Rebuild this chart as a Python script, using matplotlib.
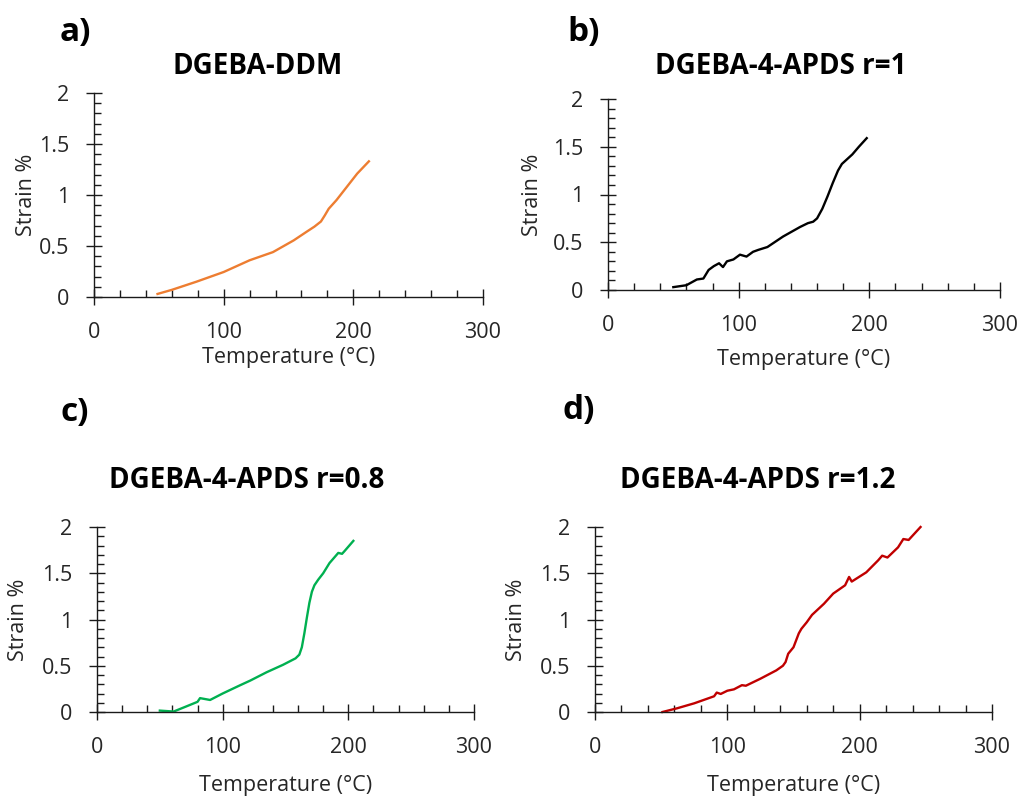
import matplotlib
matplotlib.use("Agg")
import matplotlib.pyplot as plt
from matplotlib.ticker import MultipleLocator

# Strain vs temperature
temp_a = [49, 60, 79, 100, 120, 138, 154, 164, 170, 175, 178, 181, 187, 195, 203, 212]
strain_a = [0.03, 0.07, 0.15, 0.245, 0.36, 0.44, 0.555, 0.64, 0.69, 0.74, 0.80, 0.865, 0.95,
            1.08, 1.21, 1.33]

temp_b = [50, 60, 68, 73, 77, 81, 85, 88, 91, 96, 101, 106, 111, 115, 122, 134, 147, 153, 157,
          160, 164, 168, 172, 176, 179, 183, 187, 192, 198]
strain_b = [0.03, 0.05, 0.11, 0.12, 0.21, 0.25, 0.28, 0.24, 0.30, 0.32, 0.37, 0.35, 0.40, 0.42,
            0.45, 0.56, 0.66, 0.70, 0.715, 0.75, 0.85, 0.98, 1.12, 1.25, 1.32, 1.37, 1.42, 1.50,
            1.59]

temp_c = [50, 61, 71, 80, 82, 86, 90, 100, 114, 122, 135, 148, 158, 161, 163, 165, 167, 169,
          171, 173, 176, 180, 185, 192, 195, 197, 204]
strain_c = [0.015, 0.005, 0.06, 0.11, 0.15, 0.14, 0.13, 0.20, 0.29, 0.34, 0.43, 0.51, 0.58,
            0.62, 0.70, 0.85, 1.02, 1.18, 1.30, 1.37, 1.43, 1.50, 1.61, 1.72, 1.71, 1.74, 1.85]

temp_d = [51, 62, 75, 90, 92, 95, 100, 105, 111, 114, 125, 137, 142, 144, 146, 150, 154, 156,
          160, 164, 173, 180, 189, 192, 194, 205, 214, 217, 221, 229, 233, 237, 246]
strain_d = [0.0, 0.04, 0.094, 0.17, 0.21, 0.195, 0.23, 0.245, 0.29, 0.284, 0.36, 0.45, 0.50,
            0.54, 0.63, 0.70, 0.85, 0.90, 0.97, 1.05, 1.17, 1.28, 1.37, 1.46, 1.41, 1.51, 1.64,
            1.69, 1.67, 1.78, 1.87, 1.86, 2.0]

titles = ["DGEBA-DDM", "DGEBA-4-APDS r=1", "DGEBA-4-APDS r=0.8", "DGEBA-4-APDS r=1.2"]
letters = ["a)", "b)", "c)", "d)"]
colors = ["#ED7D31", "#000000", "#00B050", "#C00000"]

W, H = 1029, 799
plt.rcParams['font.family'] = ['Open Sans', 'DejaVu Sans']

fig = plt.figure(figsize=(W / 100, H / 100), dpi=100)


def fx(x):
    return x / W


def fy(y):
    return 1 - y / H


# panel boxes in pixels: left, right, top, bottom
boxes = [(94, 483, 93, 297), (608, 1000, 99, 290), (97, 474, 527, 712), (595, 992, 527, 712)]
title_pos = [(258, 67), (781, 67), (247, 481), (758, 480)]
letter_pos = [(60, 32), (567, 32), (60, 412), (563, 410)]
xlabel_y = [358, 360, 785, 785]
ylabel_x = [26, 532, 19, 517]

data = [(temp_a, strain_a), (temp_b, strain_b), (temp_c, strain_c), (temp_d, strain_d)]

for i, (l, r, t, b) in enumerate(boxes):
    ax = fig.add_axes([fx(l), fy(b), (r - l) / W, (b - t) / H])
    x, y = data[i]
    ax.plot(x, y, color=colors[i], lw=1.7, clip_on=False, solid_joinstyle='round')
    ax.set_xlim(0, 300)
    ax.set_ylim(0, 2)
    ax.xaxis.set_major_locator(MultipleLocator(100))
    ax.xaxis.set_minor_locator(MultipleLocator(20))
    ax.yaxis.set_major_locator(MultipleLocator(0.5))
    ax.yaxis.set_minor_locator(MultipleLocator(0.1))
    ax.yaxis.set_major_formatter(lambda v, p: f"{v:g}")
    for s in ['top', 'right']:
        ax.spines[s].set_visible(False)
    for s in ['left', 'bottom']:
        ax.spines[s].set_color('#1a1a1a')
        ax.spines[s].set_linewidth(1.0)
    ax.tick_params(which='major', direction='inout', length=11.5, width=1.0, color='#1a1a1a',
                   labelsize=15.5, labelcolor='#262626', pad=12)
    ax.tick_params(which='minor', direction='in', length=5, width=1.0, color='#1a1a1a')
    ax.patch.set_alpha(0)

    fig.text(fx(title_pos[i][0]), fy(title_pos[i][1]), titles[i], ha='center', va='center',
             fontsize=20, fontweight='bold', color='black')
    fig.text(fx(letter_pos[i][0]), fy(letter_pos[i][1]), letters[i], ha='left', va='center',
             fontsize=24, fontweight='bold', color='black')
    fig.text(fx((l + r) / 2), fy(xlabel_y[i]), "Temperature (°C)", ha='center', va='center',
             fontsize=15.5, color='#262626')
    fig.text(fx(ylabel_x[i]), fy((t + b) / 2), "Strain %", ha='center', va='center',
             rotation=90, fontsize=15.5, color='#262626')

fig.savefig("out.png", dpi=100, facecolor='white')
